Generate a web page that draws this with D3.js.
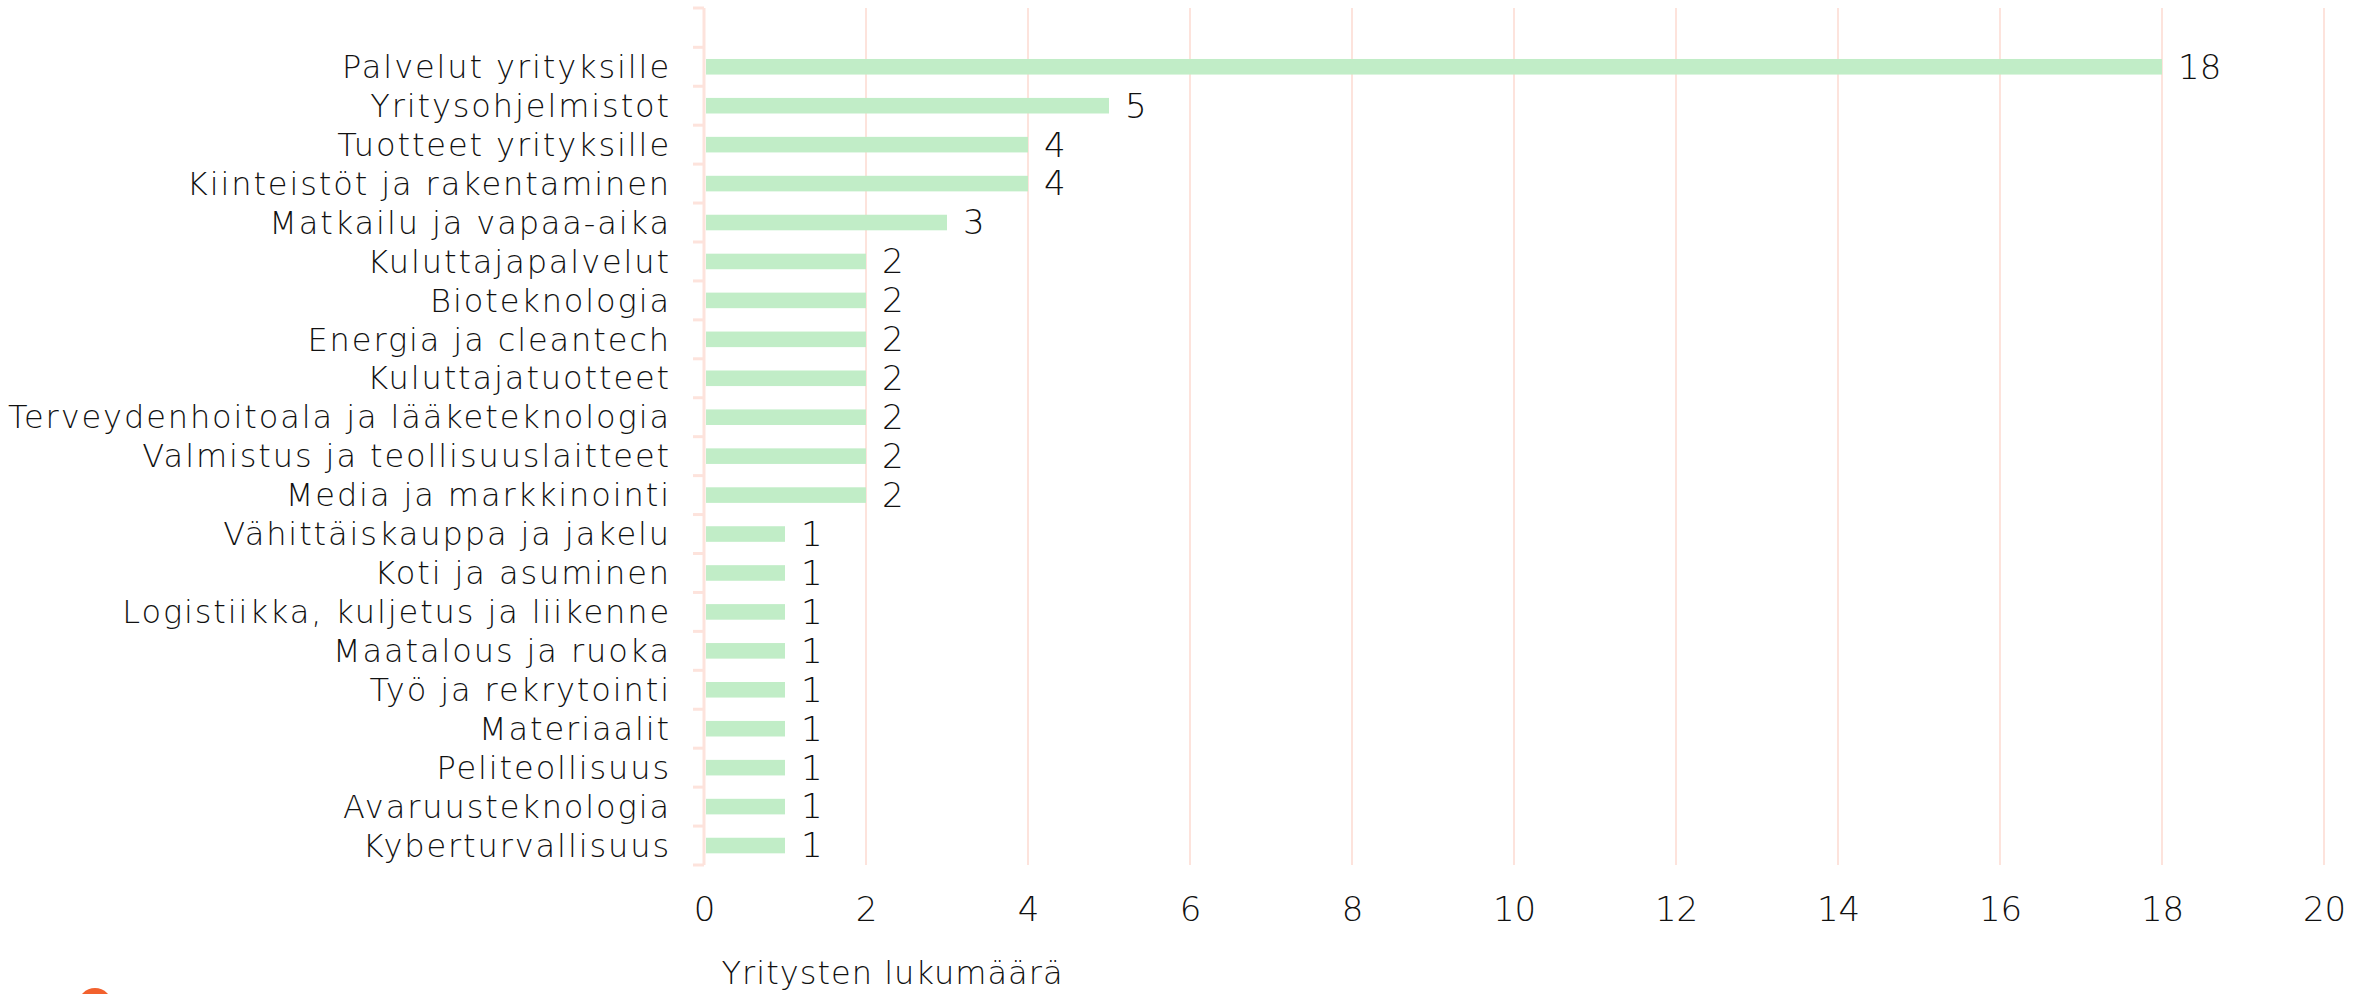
<!DOCTYPE html>
<html>
<head>
<meta charset="utf-8">
<script src="https://cdn.jsdelivr.net/npm/d3@7"></script>
<style>
  html, body { margin: 0; padding: 0; background: #fff; }
  svg text { font-family: "DejaVu Sans", Lato, sans-serif; font-weight: 200; fill: #111; }
</style>
</head>
<body>
<svg id="chart" width="2374" height="994"></svg>
<script>
const categories = [
  'Palvelut yrityksille', 'Yritysohjelmistot', 'Tuotteet yrityksille',
  'Kiinteistöt ja rakentaminen', 'Matkailu ja vapaa-aika', 'Kuluttajapalvelut',
  'Bioteknologia', 'Energia ja cleantech', 'Kuluttajatuotteet',
  'Terveydenhoitoala ja lääketeknologia', 'Valmistus ja teollisuuslaitteet',
  'Media ja markkinointi', 'Vähittäiskauppa ja jakelu', 'Koti ja asuminen',
  'Logistiikka, kuljetus ja liikenne', 'Maatalous ja ruoka', 'Työ ja rekrytointi',
  'Materiaalit', 'Peliteollisuus', 'Avaruusteknologia', 'Kyberturvallisuus'
];
const counts = [18, 5, 4, 4, 3, 2, 2, 2, 2, 2, 2, 2, 1, 1, 1, 1, 1, 1, 1, 1, 1];
const xTicks = [0, 2, 4, 6, 8, 10, 12, 14, 16, 18, 20];
const axisTitle = 'Yritysten lukumäärä';

const data = categories.map((name, i) => ({ name, value: counts[i] }));

const axisTop = 8;
const bandTop = 47.3;
const bandBottom = 865;
const gridColor = '#fde3dc';
const labelWidth = 663; // width of the longest category label in the reference

const svg = d3.select('#chart');

const xscale = d3.scaleLinear()
  .domain([0, 20])
  .range([704, 2324]);

const yscale = d3.scaleBand()
  .domain(categories)
  .range([bandTop, bandBottom])
  .padding(0);

// vertical gridlines
svg.append('g')
  .selectAll('line')
  .data(xTicks.slice(1))
  .enter()
  .append('line')
  .attr('x1', (d) => xscale(d))
  .attr('x2', (d) => xscale(d))
  .attr('y1', axisTop)
  .attr('y2', bandBottom)
  .attr('stroke', gridColor)
  .attr('stroke-width', 2);

// y axis line and boundary ticks
const yAxis = svg.append('g');
yAxis.append('line')
  .attr('x1', xscale(0)).attr('x2', xscale(0))
  .attr('y1', axisTop).attr('y2', bandBottom)
  .attr('stroke', gridColor)
  .attr('stroke-width', 3);

const boundaries = [axisTop].concat(categories.map((c) => yscale(c)), [bandBottom]);
yAxis.selectAll('line.tick')
  .data(boundaries)
  .enter()
  .append('line')
  .attr('class', 'tick')
  .attr('x1', xscale(0) - 11)
  .attr('x2', xscale(0))
  .attr('y1', (d) => d)
  .attr('y2', (d) => d)
  .attr('stroke', gridColor)
  .attr('stroke-width', 3);

// category labels
const leftAxis = d3.axisLeft(yscale).tickSize(0).tickPadding(33);
const yLabels = svg.append('g')
  .attr('transform', `translate(${xscale(0)}, 0)`)
  .call(leftAxis);
yLabels.select('.domain').remove();
const labelText = yLabels.selectAll('text')
  .attr('font-size', 32)
  .attr('dy', '0.35em')
  .attr('fill', '#111');

// stretch letter spacing so the longest label matches the reference width
let longest = null;
let maxW = 0;
labelText.each(function () {
  const w = this.getComputedTextLength();
  if (w > maxW) { maxW = w; longest = this.textContent; }
});
const spacing = (labelWidth - maxW) / longest.length;
labelText.attr('letter-spacing', spacing);

// bars
const barH = yscale.bandwidth() * 0.4;
svg.append('g')
  .selectAll('rect')
  .data(data)
  .enter()
  .append('rect')
  .attr('x', xscale(0) + 2)
  .attr('y', (d) => yscale(d.name) + (yscale.bandwidth() - barH) / 2)
  .attr('width', (d) => xscale(d.value) - xscale(0) - 2)
  .attr('height', barH)
  .attr('fill', '#c1edc7');

// value labels
svg.append('g')
  .selectAll('text')
  .data(data)
  .enter()
  .append('text')
  .attr('x', (d) => xscale(d.value) + 16)
  .attr('y', (d) => yscale(d.name) + yscale.bandwidth() / 2)
  .attr('dy', '0.35em')
  .attr('font-size', 34)
  .text((d) => d.value);

// x tick labels
const bottomAxis = d3.axisBottom(xscale).tickValues(xTicks).tickSize(0).tickPadding(0);
const xLabels = svg.append('g')
  .attr('transform', `translate(0, 909)`)
  .call(bottomAxis);
xLabels.select('.domain').remove();
xLabels.selectAll('text')
  .attr('font-size', 34)
  .attr('dy', '0.35em')
  .attr('fill', '#111');

// axis title
svg.append('text')
  .attr('x', 892)
  .attr('y', 973)
  .attr('dy', '0.35em')
  .attr('text-anchor', 'middle')
  .attr('font-size', 32)
  .attr('textLength', 341)
  .text(axisTitle);

// logo peeking in at the bottom
svg.append('circle')
  .attr('cx', 95)
  .attr('cy', 1005)
  .attr('r', 17)
  .attr('fill', '#f2612d');
</script>
</body>
</html>
